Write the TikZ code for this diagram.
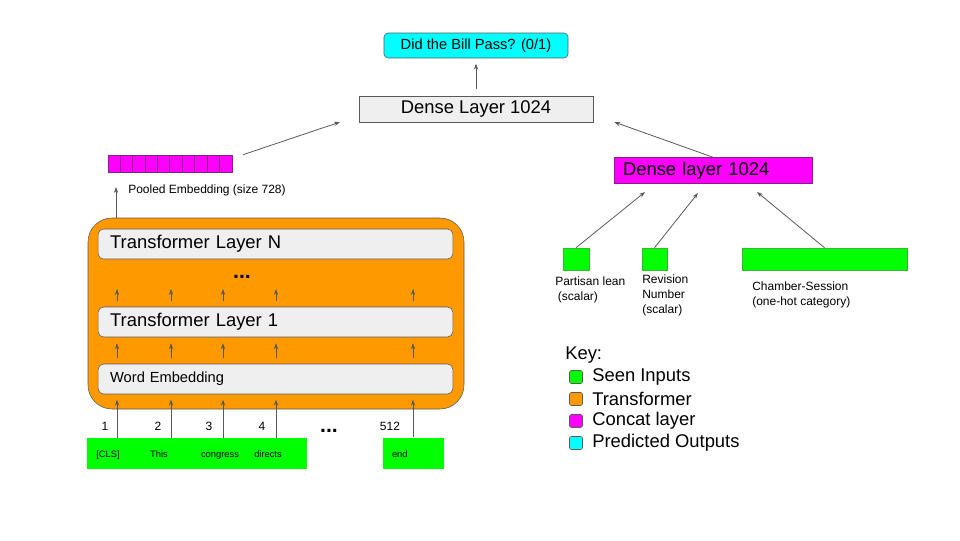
\documentclass[tikz,border=0pt]{standalone}
\usepackage{fontspec}
\setmainfont{Liberation Sans}
\usetikzlibrary{arrows.meta}
\definecolor{seen}{HTML}{00FF00}
\definecolor{seenline}{HTML}{33B833}
\definecolor{trans}{HTML}{FF9900}
\definecolor{concat}{HTML}{FF00FF}
\definecolor{concatline}{HTML}{8A1F8A}
\definecolor{predict}{HTML}{00FFFF}
\definecolor{boxgray}{HTML}{EFEFEF}
\definecolor{linec}{HTML}{595959}
\newcommand\fbig{\fontsize{13.8}{16}\selectfont}
\newcommand\fmid{\fontsize{11}{13}\selectfont}
\newcommand\fsmall{\fontsize{9}{11.25}\selectfont}
\newcommand\ftiny{\fontsize{7}{8}\selectfont}
\newcommand\fdots{\fontsize{16}{18}\selectfont\bfseries}
\begin{document}
\begin{tikzpicture}[x=0.75pt,y=-0.75pt,
	arr/.style={-{Stealth[length=4.5pt,width=3.2pt]},draw=linec,line width=0.6pt},
	layer/.style={draw=linec,fill=boxgray,rounded corners=4pt,minimum height=22.5pt,text width=248pt,inner xsep=9pt,align=left},
	seenbox/.style={fill=seen,inner sep=0pt,minimum height=23.25pt,text height=7pt,text depth=1pt,font=\ftiny},
	inbox/.style={fill=seen,draw=seenline,line width=0.4pt,minimum height=16.5pt,inner sep=0pt},
	keybox/.style={draw=linec,rounded corners=1.5pt,minimum size=9.75pt,inner sep=0pt},
	lbl/.style={inner sep=0pt}
	]
	\useasboundingbox (0,0) rectangle (960,540);
	
	% output
	\node[draw=linec,fill=predict,rounded corners=3pt,minimum width=138pt,minimum height=18.75pt,font=\fmid] (out) at (476,45.5) {Did the Bill Pass? (0/1)};
	\node[draw=linec,fill=boxgray,minimum width=175.5pt,minimum height=16.5pt,font=\fbig] (dense) at (476,109) {Dense Layer 1024};
	\draw[arr,shorten <=5pt,shorten >=4pt] (dense) -- (out);
	
	% pooled embedding
	\def\cw{12.4}
	\node[draw=concatline,fill=concat,minimum width=93pt,minimum height=12.75pt,inner sep=0pt] (pool) at (170,163.5) {};
	\foreach \i in {1,...,9}
		\draw[concatline,line width=0.4pt] (pool.north west) ++(\cw*\i,0) coordinate (cell\i) -- (cell\i |- pool.south);
	\node[lbl,anchor=west,font=\fsmall] (poollbl) at (128,190) {Pooled Embedding (size 728)};
	\draw[arr] ([xshift=8pt]pool.north east) -- ([xshift=-14pt]dense.south west);
	
	% transformer
	\node[draw=linec,fill=trans,rounded corners=18pt,minimum width=282pt,minimum height=143.25pt] (enc) at (276,313.5) {};
	\node[layer,font=\fbig] (layN) at (275.5,244) {Transformer Layer N};
	\node[font=\fdots] (dotsA) at (242,277) {...};
	\node[layer,font=\fbig] (lay1) at (275.5,322) {Transformer Layer 1};
	\node[layer,font=\fmid] (emb) at (275.5,379) {Word Embedding};
	\coordinate (pooltip) at (116,187);
	\draw[arr] (enc.north -| pooltip) -- (pooltip);
	
	% tokens
	\node[seenbox,minimum width=31.5pt] (tokA) at (108,453.5) {[CLS]};
	\node[seenbox,minimum width=46.5pt] (tokB) at (159,453.5) {This};
	\node[seenbox,minimum width=49.5pt] (tokC) at (220,453.5) {congress};
	\node[seenbox,anchor=west,text width=38.25pt,inner xsep=1.5pt,align=left] (tokD) at (252,453.5) {directs};
	\node[seenbox,text width=32.25pt,inner xsep=6.75pt,align=left] (tokE) at (413.5,453) {end};
	\node[font=\fsmall] (numA) at (105,426) {1};
	\node[font=\fsmall] (numB) at (158,426) {2};
	\node[font=\fsmall] (numC) at (209,426) {3};
	\node[font=\fsmall] (numD) at (262,426) {4};
	\node[font=\fsmall] (numE) at (390,426) {512};
	\node[font=\fdots] (dotsB) at (329,431) {...};
	
	\foreach \x [count=\k] in {117,171,223,276,413}
		\coordinate (col\k) at (\x,0);
	\coordinate (dotrow) at (0,289);
	\foreach \t [count=\k] in {tokA,tokB,tokC,tokD,tokE}
		\draw[arr,shorten >=4pt] (\t.north -| col\k) -- (emb.south -| col\k);
	\foreach \k in {1,...,5}{
		\draw[arr,shorten <=4pt,shorten >=4.5pt] (emb.north -| col\k) -- (lay1.south -| col\k);
		\draw[arr,shorten <=4pt] (lay1.north -| col\k) -- (dotrow -| col\k);
	}
	
	% side inputs
	\node[draw=concatline,fill=concat,minimum height=17.25pt,text width=135pt,inner xsep=6.75pt,align=left,font=\fbig] (dense2) at (713,170.5) {Dense layer 1024};
	\draw[arr] (dense2.north) -- ([xshift=15.75pt]dense.south east);
	\node[inbox,minimum width=19.5pt] (inA) at (576,259) {};
	\node[inbox,minimum width=18.75pt] (inB) at (654.5,259) {};
	\node[inbox,minimum width=123.75pt] (inC) at (824.5,259) {};
	\node[lbl,anchor=north west,align=left,font=\fsmall] (lblA) at (555,277) {Partisan lean\\\hspace{2pt}(scalar)};
	\node[lbl,anchor=north west,align=left,font=\fsmall] (lblB) at (642,275) {Revision\\Number\\(scalar)};
	\node[lbl,anchor=north west,align=left,font=\fsmall] (lblC) at (752,282) {Chamber-Session\\(one-hot category)};
	\coordinate (tipA) at (645,192);
	\coordinate (tipB) at (698,193);
	\coordinate (tipC) at (757,192);
	\draw[arr] (inA.north) -- (tipA);
	\draw[arr] (inB.north) -- (tipB);
	\draw[arr] (inC.north) -- (tipC);
	
	% key
	\node[lbl,anchor=west,font=\fbig] (keyttl) at (565,355) {Key:};
	\foreach \c/\t [count=\k] in {seen/Seen Inputs,trans/Transformer,concat/Concat layer,predict/Predicted Outputs}{
		\node[keybox,fill=\c] (key\k) at (576,{377+22*(\k-1)}) {};
		\node[lbl,anchor=west,font=\fbig] (keylbl\k) at (592,{377+22*(\k-1)}) {\t};
	}
\end{tikzpicture}
\end{document}
